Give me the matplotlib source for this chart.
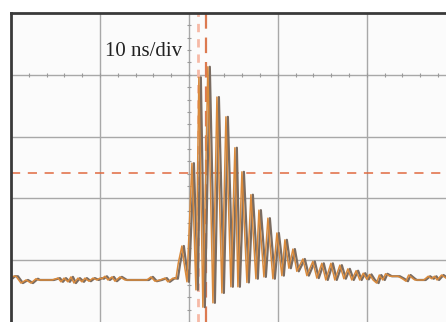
import numpy as np
import matplotlib.pyplot as plt

# time in ns (10 ns/div), amplitude in screen divisions
pre_t = [0.0, 0.22, 0.56, 1.12, 1.69, 2.25, 2.81, 3.03, 4.61, 5.28, 5.62, 5.96,
         6.40, 6.74, 7.08, 7.53, 7.98, 8.31, 8.76, 9.21, 9.66, 10.0, 10.22,
         10.56, 10.90, 11.35, 11.69, 12.25, 12.81, 15.28, 15.73, 16.18, 16.74,
         17.30, 17.64, 18.20, 18.54]
pre_v = [0.71, 0.74, 0.74, 0.63, 0.68, 0.63, 0.70, 0.68, 0.68, 0.71, 0.65, 0.71,
         0.65, 0.73, 0.63, 0.71, 0.65, 0.71, 0.66, 0.71, 0.68, 0.71, 0.70,
         0.74, 0.68, 0.73, 0.66, 0.73, 0.68, 0.68, 0.73, 0.66, 0.68,
         0.71, 0.65, 0.71, 0.70]

ring_t = [18.80, 19.21, 19.44, 19.78, 20.34, 20.79, 21.12, 21.57, 22.13, 22.70,
          23.15, 23.71, 24.16, 24.72, 25.17, 25.51, 25.96, 26.52, 26.97, 27.53,
          27.87, 28.43, 28.88, 29.44, 29.89, 30.45, 30.79, 31.24, 31.69, 32.13,
          32.81, 33.26, 33.93, 34.38, 34.94, 35.39, 35.96, 36.40, 36.97, 37.42,
          37.87, 38.31, 38.80, 39.20, 39.60, 40.00]
ring_v = [0.95, 1.23, 0.97, 0.65, 2.57, 0.52, 3.96, 0.24, 4.13, 0.31,
          3.64, 0.47, 3.32, 0.57, 2.82, 0.57, 2.43, 0.64, 2.06, 0.70,
          1.81, 0.73, 1.68, 0.70, 1.44, 0.75, 1.33, 0.87, 1.18, 0.82,
          1.02, 0.75, 0.98, 0.71, 0.95, 0.68, 0.95, 0.68, 0.92, 0.70,
          0.86, 0.68, 0.83, 0.68, 0.79, 0.69]

post_t = [40.3, 40.7, 41.1, 41.4, 41.8, 42.1, 42.6, 43.5, 44.0, 44.4, 44.7, 45.2,
          45.4, 46.4, 46.9, 47.3, 47.6, 47.9, 48.4, 48.9]
post_v = [0.77, 0.68, 0.63, 0.76, 0.68, 0.78, 0.74, 0.74, 0.70, 0.66, 0.76, 0.70,
          0.68, 0.68, 0.74, 0.70, 0.74, 0.68, 0.76, 0.71]

t = np.array(pre_t + ring_t + post_t)
v = np.array(pre_v + ring_v + post_v)
skew_ns = 0.22  # second channel sits a touch later

trigger_level = 2.41
cursor_a = 21.0
cursor_b = 21.9

fig = plt.figure(figsize=(4.46, 3.22), dpi=100)
ax = fig.add_axes([11 / 446, 0, 435 / 446, 309 / 322])
ax.set_facecolor('#fbfbfb')
ax.set_xlim(0, 48.9)
ax.set_ylim(0, 5)

ax.set_xticks([10, 20, 30, 40])
ax.set_yticks([1, 2, 3, 4])
ax.tick_params(length=0, labelbottom=False, labelleft=False)
ax.grid(True, color='#a8a8a8', lw=1.0)
ax.set_axisbelow(True)

# minor ticks on the centre graticule
mx = np.arange(0, 49, 2.0)
ax.plot(mx, np.full(len(mx), 4.0), '|', color='#9a9a9a', ms=3.5, mew=0.8)
my = np.arange(0, 5.01, 0.2)
ax.plot(np.full(len(my), 20.0), my, '_', color='#9a9a9a', ms=3.5, mew=0.8)

for side in ['right', 'bottom']:
    ax.spines[side].set_visible(False)
for side in ['top', 'left']:
    ax.spines[side].set_color('#3a3a3a')
    ax.spines[side].set_linewidth(2)

ax.axhline(trigger_level, color='#e06a40', lw=1.1, dashes=(6, 5))
ax.axvline(cursor_a, color='#f6b9a6', lw=2.0, dashes=(3, 2.5))
ax.axvline(cursor_b, color='#dc7a50', lw=1.6, dashes=(7, 4))

ax.plot(t + skew_ns, v, color='#7a6c62', lw=1.6)
ax.plot(t, v, color='#d98a3c', lw=1.1)

ax.text(14.9, 4.37, '10 ns/div', fontsize=15, family='Liberation Serif',
        ha='center', va='center', color='#222222')

fig.savefig('out.png', dpi=100)
